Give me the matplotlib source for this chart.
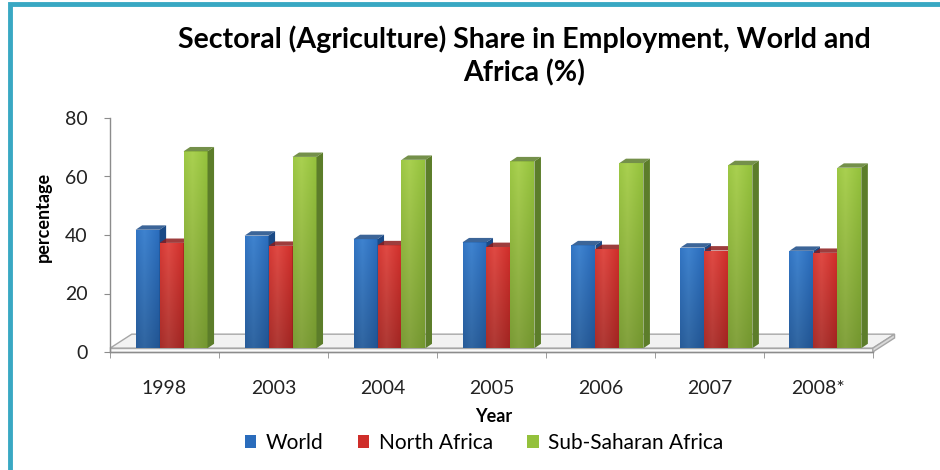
import numpy as np
import matplotlib.pyplot as plt
from matplotlib.patches import Polygon, Rectangle
from matplotlib.colors import to_rgb

years = ['1998', '2003', '2004', '2005', '2006', '2007', '2008*']
world = [40.5, 38.5, 37.3, 36.2, 35.2, 34.4, 33.3]
north_africa = [36.0, 35.0, 35.2, 34.6, 33.9, 33.4, 32.6]
sub_saharan = [67.3, 65.4, 64.4, 63.9, 63.3, 62.6, 61.7]

series = [
    ('World', world, '#2a6cbc', '#1a4a86', '#3f83cf'),
    ('North Africa', north_africa, '#cf2e2a', '#8c1b1b', '#e04a44'),
    ('Sub-Saharan Africa', sub_saharan, '#94c13c', '#5c7d2a', '#a9d050'),
]

plt.rcParams['font.family'] = ['Lato', 'DejaVu Sans']

fig = plt.figure(figsize=(9.4, 4.7), dpi=100)
ax = fig.add_axes([110 / 940, 118 / 470, 790 / 940, 234 / 470])
ax.set_xlim(-0.5, 6.75)
ax.set_ylim(0, 80)

# teal frame around the chart area
fig.patches.append(Rectangle((9.5 / 940, -0.1), 1.2, (466 / 470) + 0.1, transform=fig.transFigure,
                             fill=False, edgecolor='#39a8c3', linewidth=3.5, zorder=0))

bar_w = 0.22
shift = 0.065
lift = 1.3
dx, dy = 0.06, 1.5           # depth of each column
fdx, fdy = 0.2, 4.8          # depth of the floor
n = len(years)


def shade(color, light):
    c = np.array(to_rgb(color))
    l = np.array(to_rgb(light))
    t = np.linspace(0, 1, 40)
    prof = np.interp(t, [0, 0.35, 1], [0.4, 1.0, 0.0])
    cols = c[None, :] * (1 - prof[:, None]) + l[None, :] * prof[:, None]
    vert = np.linspace(0.78, 1.0, 30)[:, None, None]
    return np.clip(cols[None, :, :] * vert, 0, 1)


# floor slab
floor_top = Polygon([(-0.5, lift), (6.5, lift), (6.5 + fdx, lift + fdy), (-0.5 + fdx, lift + fdy)],
                    closed=True, facecolor='#f2f2f2', edgecolor='#a6a6a6', linewidth=1.0,
                    clip_on=False, zorder=1)
floor_front = Polygon([(-0.5, 0), (6.5, 0), (6.5, lift), (-0.5, lift)], closed=True,
                      facecolor='#fafafa', edgecolor='#a6a6a6', linewidth=1.0, clip_on=False, zorder=1)
floor_side = Polygon([(6.5, 0), (6.5 + fdx, fdy), (6.5 + fdx, lift + fdy), (6.5, lift)], closed=True,
                     facecolor='#d9d9d9', edgecolor='#a6a6a6', linewidth=1.0, clip_on=False, zorder=1)
for p in (floor_top, floor_front, floor_side):
    ax.add_patch(p)

for k, (name, vals, front, side, light) in enumerate(series):
    xs = np.arange(n) + shift + (k - 1) * bar_w
    img = shade(front, light)
    for x, v in zip(xs, vals):
        x0 = x - bar_w / 2
        top = lift + v
        rect = Rectangle((x0, lift), bar_w, v, facecolor=front, edgecolor='none', zorder=3 + k)
        ax.add_patch(rect)
        im = ax.imshow(img, extent=(x0, x0 + bar_w, lift, top), origin='lower',
                       aspect='auto', zorder=3 + k, interpolation='bilinear')
        im.set_clip_path(rect)
        ax.add_patch(Polygon([(x0 + bar_w, lift), (x0 + bar_w + dx, lift + dy),
                              (x0 + bar_w + dx, top + dy), (x0 + bar_w, top)],
                             closed=True, facecolor=side, edgecolor='none', zorder=3 + k))
        ax.add_patch(Polygon([(x0, top), (x0 + bar_w, top), (x0 + bar_w + dx, top + dy),
                              (x0 + dx, top + dy)], closed=True, facecolor=side,
                             edgecolor='none', alpha=0.85, clip_on=False, zorder=3 + k))
    ax.bar([0], [0], color=front, label=name)

ax.set_xlim(-0.5, 6.75)
ax.set_ylim(0, 80)

for s in ('top', 'right'):
    ax.spines[s].set_visible(False)
ax.spines['left'].set_bounds(0, 80)
ax.spines['bottom'].set_bounds(-0.5, 6.5)
for s in ('left', 'bottom'):
    ax.spines[s].set_color('#8c8c8c')
    ax.spines[s].set_linewidth(1.0)

ax.set_yticks(range(0, 81, 20))
ax.tick_params(axis='y', direction='out', length=4, color='#8c8c8c', labelsize=14, pad=12,
               labelcolor='#222222')
ax.set_xticks(range(n))
ax.set_xticklabels(years)
ax.set_xticks(np.arange(-0.5, n, 1.0), minor=True)
ax.tick_params(axis='x', which='major', length=0, pad=20, labelsize=14, labelcolor='#222222')
ax.tick_params(axis='x', which='minor', direction='out', length=4, color='#8c8c8c')

ax.set_ylabel('percentage', fontsize=13, fontweight='bold')
ax.yaxis.set_label_coords(-0.0735, 0.577)
ax.set_xlabel('Year', fontsize=13, fontweight='bold')
ax.xaxis.set_label_coords(0.486, -0.24)

fig.text(524 / 940, 1 - 56 / 470, 'Sectoral (Agriculture) Share in Employment, World and\nAfrica (%)',
         ha='center', va='center', fontsize=20.5, fontweight='bold', linespacing=1.3)

ax.legend(loc='center', bbox_to_anchor=(484 / 940, 1 - 443 / 470), bbox_transform=fig.transFigure,
          ncol=3, frameon=False, fontsize=15, handlelength=0.55, handleheight=0.55,
          columnspacing=1.65, handletextpad=0.45)

fig.savefig('out.png', dpi=100, facecolor='white')
